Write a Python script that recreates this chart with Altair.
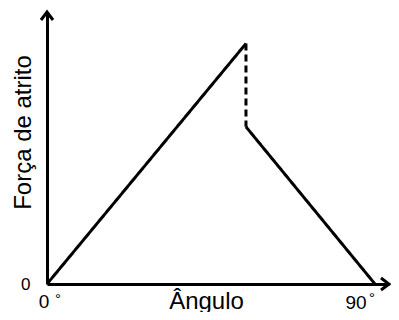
import altair as alt
import pandas as pd

# --- data ---
seg = ["subida", "subida", "queda", "queda", "descida", "descida"]
angulo = [0, 54.6, 54.6, 54.6, 54.6, 90]
forca = [0, 88.4, 88.4, 57.8, 57.8, 0]
ordem = [0, 1, 2, 3, 4, 5]

x_max = 93.85  # end of the drawn x axis (arrow tip)
y_max = 100    # end of the drawn y axis (arrow tip)

tick_x = [0, 90]
tick_txt = ["0", "90"]

FONT = "Liberation Sans"

df = pd.DataFrame({"seg": seg, "angulo": angulo, "forca": forca, "ordem": ordem})

xs = alt.Scale(domain=[0, x_max], nice=False, zero=False)
ys = alt.Scale(domain=[0, y_max], nice=False, zero=False)

line = alt.Chart(df).mark_line(strokeWidth=3, color="black").encode(
    x=alt.X("angulo:Q", scale=xs, axis=alt.Axis(
        title="Ângulo", titleFont=FONT, titleFontSize=24, titleFontWeight="normal",
        titleColor="black", titleX=159, titleY=24, titleAlign="center",
        titleBaseline="alphabetic", labels=False, ticks=False, grid=False,
        domainColor="black", domainWidth=3)),
    y=alt.Y("forca:Q", scale=ys, axis=alt.Axis(
        title="Força de atrito", titleFont=FONT, titleFontSize=24,
        titleFontWeight="normal", titleColor="black", titleAngle=270,
        titleX=-17, titleY=120, titleAlign="center", titleBaseline="alphabetic",
        values=[0], labelFont=FONT, labelFontSize=17, labelColor="black",
        labelPadding=17, ticks=False, grid=False,
        domainColor="black", domainWidth=3)),
    detail="seg:N",
    order="ordem:Q",
    strokeDash=alt.StrokeDash("seg:N", scale=alt.Scale(
        domain=["subida", "queda", "descida"],
        range=[[1, 0], [7, 4], [1, 0]]), legend=None),
)

arrows_df = pd.DataFrame({"angulo": [0, x_max], "forca": [y_max, 0],
                          "dir": ["cima", "direita"]})
arrows = alt.Chart(arrows_df).mark_point(
    filled=False, size=256, strokeWidth=3, color="black", opacity=1,
    strokeJoin="miter").encode(
    x=alt.X("angulo:Q", scale=xs),
    y=alt.Y("forca:Q", scale=ys),
    shape=alt.Shape("dir:N", scale=alt.Scale(
        domain=["cima", "direita"],
        range=["M -0.75 1 L 0 0 L 0.75 1", "M -1 -0.75 L 0 0 L -1 0.75"]),
        legend=None),
)

def tick_layer(i, dx, dy):
    d = pd.DataFrame({"angulo": [tick_x[i]], "forca": [0], "txt": [tick_txt[i]]})
    return alt.Chart(d).mark_text(font=FONT, fontSize=19, color="black",
                                  dx=dx, dy=dy, baseline="alphabetic").encode(
        x=alt.X("angulo:Q", scale=xs), y=alt.Y("forca:Q", scale=ys), text="txt:N")

def deg_layer(i, dx, dy):
    d = pd.DataFrame({"angulo": [tick_x[i]], "forca": [0], "txt": ["°"]})
    return alt.Chart(d).mark_text(font=FONT, fontSize=15, color="black",
                                  dx=dx, dy=dy, baseline="alphabetic").encode(
        x=alt.X("angulo:Q", scale=xs), y=alt.Y("forca:Q", scale=ys), text="txt:N")

chart = alt.layer(
    line, arrows,
    tick_layer(0, -3, 24), deg_layer(0, 11, 20),
    tick_layer(1, -19, 25), deg_layer(1, -3, 19),
).properties(
    width=342, height=272,
    background="white",
    autosize=alt.AutoSizeParams(type="none"),
    padding={"left": 39, "top": 4, "right": 2, "bottom": 28},
).configure_view(stroke="transparent", strokeWidth=0)

chart.save("out.html", embed_options={"renderer": "svg", "actions": False})
